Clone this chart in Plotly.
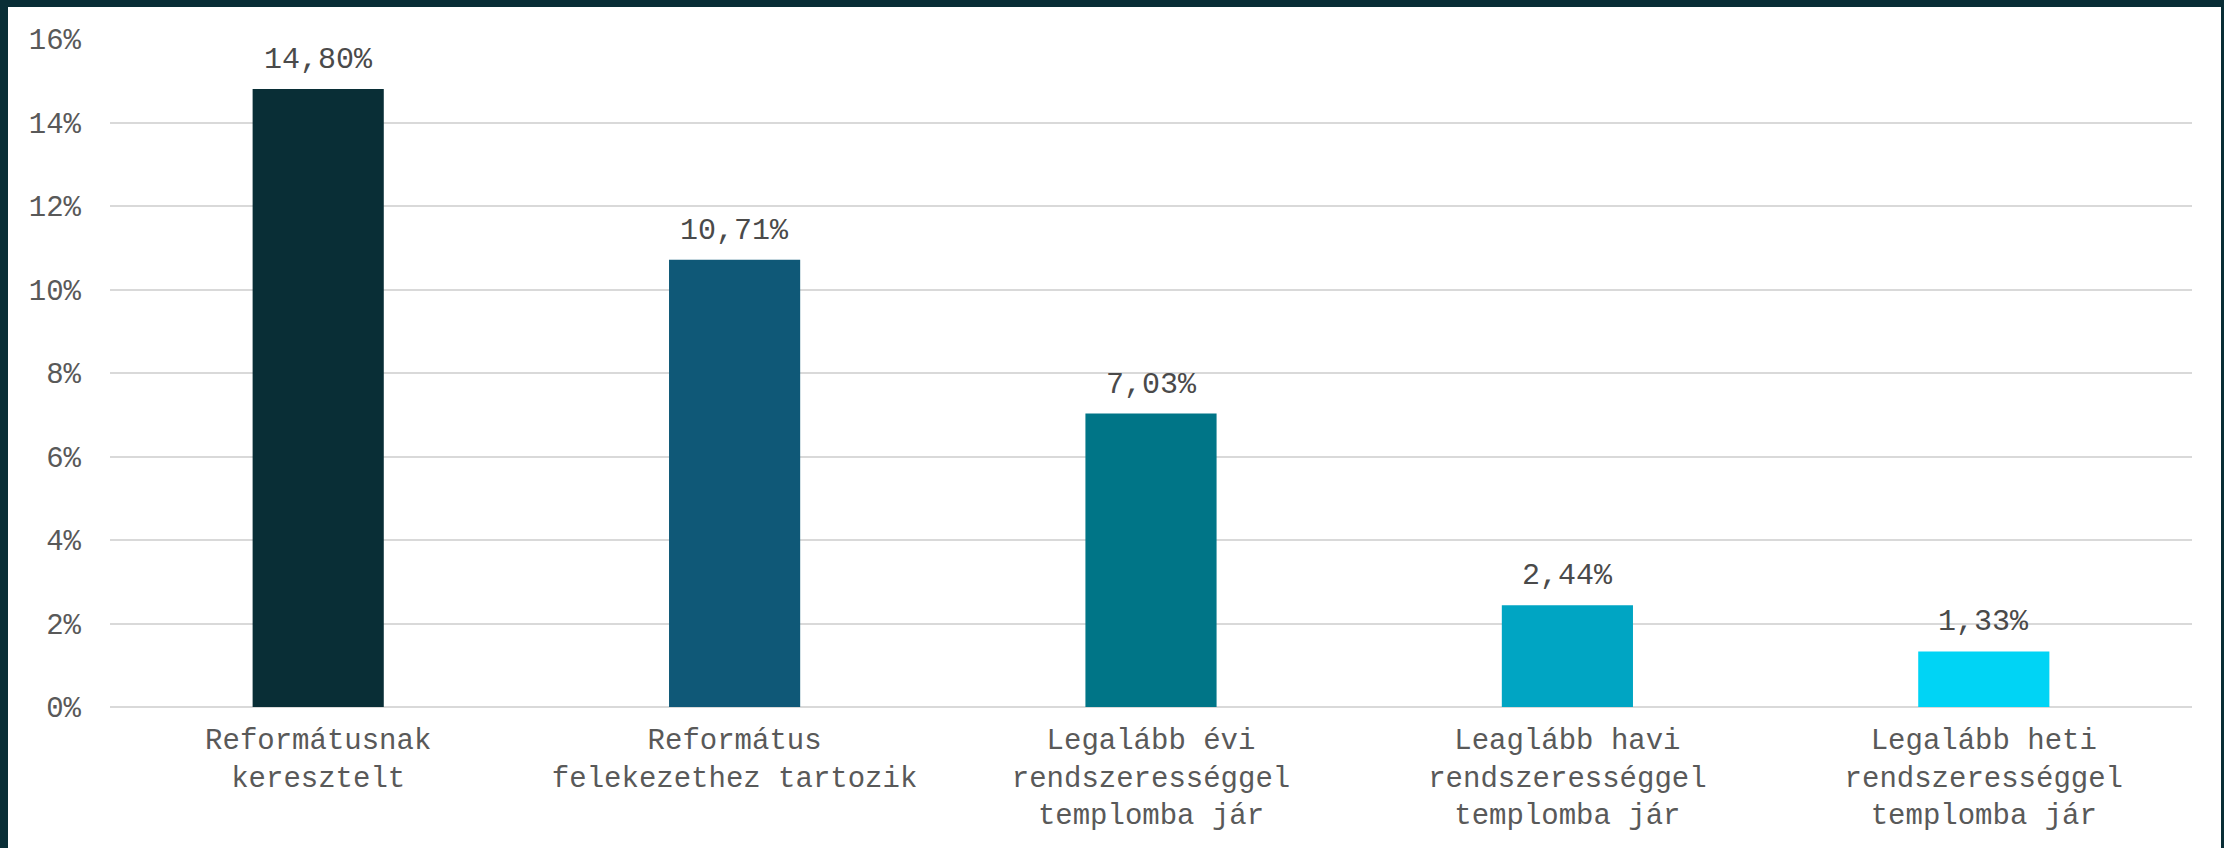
import plotly.graph_objects as go

categories = [
    "Reformátusnak<br>keresztelt",
    "Református<br>felekezethez tartozik",
    "Legalább évi<br>rendszerességgel<br>templomba jár",
    "Leaglább havi<br>rendszerességgel<br>templomba jár",
    "Legalább heti<br>rendszerességgel<br>templomba jár",
]
values = [14.80, 10.71, 7.03, 2.44, 1.33]
bar_colors = ["#092e36", "#0f5877", "#007587", "#00a5c3", "#00d4f5"]
y_tickvals = [0, 2, 4, 6, 8, 10, 12, 14, 16]
y_ticktext = [f"{v}%" for v in y_tickvals]
value_labels = [f"{v:.2f}".replace(".", ",") + "%" for v in values]

W, H = 2224, 848
ml, mr, mt, mb = 110, 32, 39, 141
pw = W - ml - mr
ph = H - mt - mb

FONT = "Courier New, Liberation Mono, monospace"

fig = go.Figure()
fig.add_trace(go.Bar(
    x=categories,
    y=values,
    marker=dict(color=bar_colors, line=dict(width=0)),
    width=0.315,
    hoverinfo="skip",
))

for c, v, t in zip(categories, values, value_labels):
    fig.add_annotation(
        x=c, y=v, text=t, showarrow=False,
        yanchor="middle", yshift=29,
        font=dict(family=FONT, size=30, color="#4a4a4a"),
    )

# white card over dark border
fig.add_shape(
    type="rect", xref="paper", yref="paper", layer="below",
    x0=(8 - ml) / pw, x1=(2221 - ml) / pw,
    y0=-(H - (mt + ph)) / ph - 0.01, y1=1 + (mt - 7) / ph,
    fillcolor="white", line=dict(width=0),
)

fig.update_layout(
    width=W, height=H,
    margin=dict(l=ml, r=mr, t=mt, b=mb, pad=0),
    paper_bgcolor="#092e36",
    plot_bgcolor="white",
    showlegend=False,
    xaxis=dict(
        showgrid=False, showline=False, ticks="",
        tickfont=dict(family=FONT, size=29, color="#595959"),
        ticklabelstandoff=12,
    ),
    yaxis=dict(
        range=[0, 16],
        tickvals=y_tickvals, ticktext=y_ticktext,
        showgrid=True, gridcolor="#d9d9d9", gridwidth=2,
        zeroline=True, zerolinecolor="#d9d9d9", zerolinewidth=2,
        showline=False, ticks="",
        tickfont=dict(family=FONT, size=29, color="#595959"),
        ticklabelstandoff=28,
    ),
)

fig.write_html(
    "out.html",
    config={"displayModeBar": False},
    post_script="document.body.style.margin='0';document.body.style.overflow='hidden';",
)
